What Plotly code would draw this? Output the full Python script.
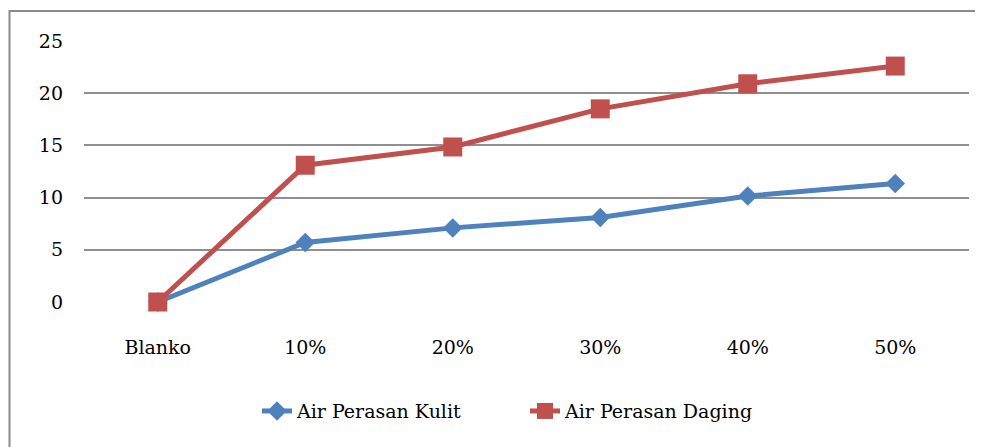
import plotly.graph_objects as go

categories = ["Blanko", "10%", "20%", "30%", "40%", "50%"]
kulit = [0, 5.7, 7.1, 8.1, 10.15, 11.35]
daging = [0, 13.1, 14.85, 18.5, 20.9, 22.6]
y_ticks = [0, 5, 10, 15, 20, 25]

BLUE = "#4F81BD"
RED = "#C0504D"
FONT = "DejaVu Serif"

fig = go.Figure()
fig.add_trace(go.Scatter(
    x=categories, y=kulit, name="Air Perasan Kulit", mode="lines+markers",
    line=dict(color=BLUE, width=5),
    marker=dict(symbol="diamond", size=15, color=BLUE),
    cliponaxis=False,
))
fig.add_trace(go.Scatter(
    x=categories, y=daging, name="Air Perasan Daging", mode="lines+markers",
    line=dict(color=RED, width=5),
    marker=dict(symbol="square", size=19, color=RED),
    cliponaxis=False,
))

# page body has an 8px margin, so the figure is shifted by (8, 8)
fig.update_layout(
    width=975, height=439,
    margin=dict(l=76, r=14, t=33, b=145),
    paper_bgcolor="white", plot_bgcolor="white",
    font=dict(family=FONT, size=19, color="black"),
    showlegend=True,
    legend=dict(orientation="h", x=(257 - 84) / 885, xanchor="left", y=-0.418, yanchor="middle",
                font=dict(family=FONT, size=19, color="black"),
                entrywidth=223, entrywidthmode="pixels",
                bgcolor="rgba(0,0,0,0)", tracegroupgap=0),
    xaxis=dict(
        type="category", range=[-0.5, 5.5], showgrid=False, zeroline=False,
        showline=False, ticks="", ticklabelstandoff=32,
        tickfont=dict(family=FONT, size=19, color="black"),
    ),
    yaxis=dict(
        range=[0, 25], tickvals=y_ticks, showgrid=True, gridcolor="#8f8f8f",
        gridwidth=1.5, zeroline=False, showline=False, ticks="",
        ticklabelstandoff=20,
        tickfont=dict(family=FONT, size=19, color="black"),
    ),
    shapes=[dict(type="rect", xref="paper", yref="paper",
                 x0=(9.5 - 84) / 885, x1=1.1, y0=-0.8, y1=(302 - 11) / 261,
                 line=dict(color="#8a8a8a", width=2), fillcolor="rgba(0,0,0,0)",
                 layer="below")],
)

fig.write_html("out.html")
